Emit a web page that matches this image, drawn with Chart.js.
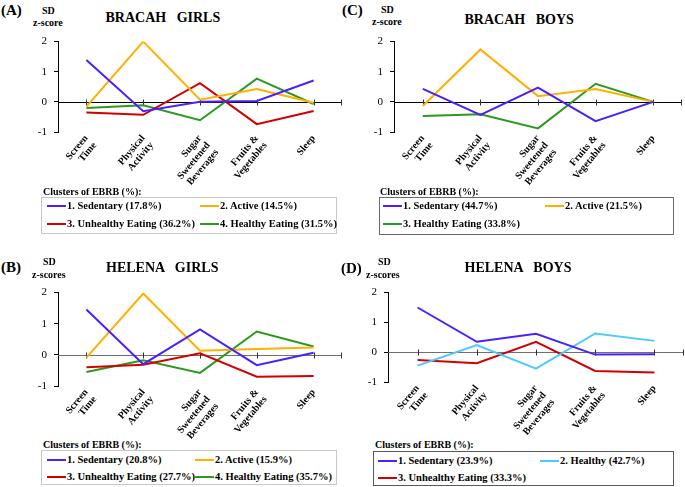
<!DOCTYPE html>
<html><head><meta charset="utf-8">
<script src="https://cdn.jsdelivr.net/npm/chart.js@4"></script>
<style>
body{margin:0;background:#fff;}
#wrap{position:relative;width:685px;height:487px;overflow:hidden;font-family:"Liberation Serif","Times New Roman",serif;color:#000;background:#fff;}
.t{position:absolute;white-space:pre;font-weight:bold;line-height:1;}
canvas{position:absolute;}
.hd{position:absolute;white-space:pre;font-weight:bold;font-size:10px;line-height:1;}
.bx{position:absolute;box-sizing:border-box;border:1px solid #999;}
.it{position:absolute;white-space:pre;font-weight:bold;font-size:10.5px;line-height:1;display:flex;align-items:center;}
.it i{display:inline-block;width:19px;height:2px;margin-right:1px;}
</style></head><body><div id="wrap"></div>
<script>
// ---- data ----
const categories = [['Screen','Time'],['Physical','Activity'],['Sugar','Sweetened','Beverages'],['Fruits &','Vegetables'],['Sleep']];
const yTicks = [-1, 0, 1, 2];

const bracahGirlsNames = ['1. Sedentary (17.8%)','2. Active (14.5%)','3. Unhealthy Eating (36.2%)','4. Healthy Eating (31.5%)'];
const bracahGirlsSedentary = [1.39, -0.31, 0.00, 0.03, 0.71];
const bracahGirlsActive    = [-0.16, 2.00, 0.07, 0.43, -0.03];
const bracahGirlsUnhealthy = [-0.35, -0.43, 0.62, -0.74, -0.30];
const bracahGirlsHealthy   = [-0.20, -0.11, -0.61, 0.77, -0.07];

const bracahBoysNames = ['1. Sedentary (44.7%)','2. Active (21.5%)','3. Healthy Eating (33.8%)'];
const bracahBoysSedentary = [0.43, -0.43, 0.47, -0.64, 0.00];
const bracahBoysActive    = [-0.14, 1.74, 0.19, 0.43, 0.00];
const bracahBoysHealthy   = [-0.47, -0.41, -0.88, 0.60, 0.00];

const helenaGirlsNames = ['1. Sedentary (20.8%)','2. Active (15.9%)','3. Unhealthy Eating (27.7%)','4. Healthy Eating (35.7%)'];
const helenaGirlsSedentary = [1.46, -0.30, 0.82, -0.33, 0.07];
const helenaGirlsActive    = [-0.09, 1.97, 0.13, 0.19, 0.24];
const helenaGirlsUnhealthy = [-0.40, -0.32, 0.05, -0.70, -0.68];
const helenaGirlsHealthy   = [-0.55, -0.17, -0.58, 0.75, 0.27];

const helenaBoysNames = ['1. Sedentary (23.9%)','2. Healthy (42.7%)','3. Unhealthy Eating (33.3%)'];
const helenaBoysSedentary = [1.50, 0.35, 0.62, -0.08, -0.07];
const helenaBoysHealthy   = [-0.45, 0.24, -0.55, 0.63, 0.38];
const helenaBoysUnhealthy = [-0.26, -0.37, 0.35, -0.63, -0.68];

// ---- styles ----
const COL = {sed:'#4b1fff', act:'#ffb000', unh:'#d40000', hea:'#2a9a1e', hel:'#4cc9ff'};
const FONT = '"Liberation Serif","Times New Roman",serif';

const panels = [
  {tag:'(A)', title:'BRACAH   GIRLS', sd:'z-score', names:bracahGirlsNames,
   series:[bracahGirlsSedentary,bracahGirlsActive,bracahGirlsUnhealthy,bracahGirlsHealthy], cols:['sed','act','unh','hea'],
   zeroColor:'#000', boxColor:'#c8c8c8',
   L:{cx:0,cy:28,cw:345,ch:160, l:58,t:38,r:342,b:132, tagX:1,tagY:3, sdX:42,sdY:6, zX:33,zY:18, titleC:163,titleY:11,
      hdX:43,hdY:187, bx:[41,197,296,37], rows:[207,225], colsX:[47,200]}},
  {tag:'(C)', title:'BRACAH   BOYS', sd:'z-score', names:bracahBoysNames,
   series:[bracahBoysSedentary,bracahBoysActive,bracahBoysHealthy], cols:['sed','act','hea'],
   zeroColor:'#000', boxColor:'#6a6a6a',
   L:{cx:345,cy:28,cw:340,ch:160, l:394,t:38,r:682,b:132, tagX:342,tagY:3, sdX:381,sdY:5, zX:372,zY:17, titleC:519,titleY:13,
      hdX:380,hdY:187, bx:[379,197,295,38], rows:[207,225], colsX:[383,545]}},
  {tag:'(B)', title:'HELENA   GIRLS', sd:'z-scores', names:helenaGirlsNames,
   series:[helenaGirlsSedentary,helenaGirlsActive,helenaGirlsUnhealthy,helenaGirlsHealthy], cols:['sed','act','unh','hea'],
   zeroColor:'#707070', boxColor:'#c8c8c8',
   L:{cx:0,cy:279,cw:345,ch:160, l:58,t:289,r:342,b:386, tagX:1,tagY:260, sdX:43,sdY:257, zX:32,zY:270, titleC:162,titleY:261,
      hdX:43,hdY:440, bx:[41,450,296,35], rows:[461,478], colsX:[47,195]}},
  {tag:'(D)', title:'HELENA   BOYS', sd:'z-scores', names:helenaBoysNames,
   series:[helenaBoysSedentary,helenaBoysHealthy,helenaBoysUnhealthy], cols:['sed','hel','unh'],
   zeroColor:'#707070', boxColor:'#5a5a5a',
   L:{cx:345,cy:279,cw:340,ch:160, l:388,t:289,r:684,b:382, tagX:341,tagY:261, sdX:378,sdY:257, zX:366,zY:270, titleC:518,titleY:261,
      hdX:375,hdY:440, bx:[373,451,301,35], rows:[462,479], colsX:[378,540]}}
];

const zeroAxis = {
  id:'zeroAxis',
  beforeDatasetsDraw(chart, args, opts){
    const {ctx, chartArea:a, scales:{x,y}} = chart;
    const y0 = Math.round(y.getPixelForValue(0)) + 0.5;
    ctx.save();
    ctx.strokeStyle = opts.color; ctx.lineWidth = 1;
    ctx.beginPath(); ctx.moveTo(a.left, y0); ctx.lineTo(a.right, y0); ctx.stroke();
    ctx.strokeStyle = '#333';
    ctx.beginPath();
    for (let i = 0; i < chart.data.labels.length; i++) {
      const px = Math.round(x.getPixelForValue(i)) + 0.5;
      ctx.moveTo(px, y0 - 3); ctx.lineTo(px, y0 + 3);
    }
    ctx.moveTo(Math.round(a.right) - 0.5, y0 - 3); ctx.lineTo(Math.round(a.right) - 0.5, y0 + 3);
    ctx.stroke();
    ctx.restore();
  }
};

const wrap = document.getElementById('wrap');
function addText(txt, x, y, size, extra){
  const d = document.createElement('div'); d.className='t'; d.textContent = txt;
  d.style.left = x+'px'; d.style.top = y+'px'; d.style.fontSize = size+'px';
  if (extra) Object.assign(d.style, extra);
  wrap.appendChild(d); return d;
}

panels.forEach(p => {
  const L = p.L;
  const cv = document.createElement('canvas');
  cv.width = L.cw; cv.height = L.ch;
  cv.style.left = L.cx+'px'; cv.style.top = L.cy+'px';
  cv.style.width = L.cw+'px'; cv.style.height = L.ch+'px';
  wrap.appendChild(cv);
  const yW = L.l - L.cx, xH = (L.cy + L.ch) - L.b;
  new Chart(cv.getContext('2d'), {
    type:'line',
    data:{
      labels: categories,
      datasets: p.series.map((s,i) => ({
        label: p.names[i], data: s, borderColor: COL[p.cols[i]], backgroundColor: COL[p.cols[i]],
        borderWidth: 2, pointRadius: 0, tension: 0, fill: false, borderJoinStyle:'miter'
      }))
    },
    options:{
      responsive:false, animation:false, devicePixelRatio:1,
      layout:{padding:{top: L.t - L.cy, right: (L.cx + L.cw) - L.r, left:0, bottom:0}},
      plugins:{legend:{display:false}, title:{display:false}, tooltip:{enabled:false}, zeroAxis:{color:p.zeroColor}},
      scales:{
        x:{offset:true, afterFit:s=>{s.height = xH;},
           grid:{display:false, drawTicks:false}, border:{display:false},
           ticks:{autoSkip:false, maxRotation:50, minRotation:50, color:'#000', padding:1,
                  font:{family:FONT, size:10, weight:'bold', lineHeight:1.1}}},
        y:{min:-1, max:2, afterFit:s=>{s.width = yW;},
           afterBuildTicks:s=>{s.ticks = yTicks.map(v=>({value:v}));},
           ticks:{color:'#000', padding:7, font:{family:FONT, size:11}},
           grid:{drawOnChartArea:false, drawTicks:true, tickLength:4, color:'#000'},
           border:{display:true, color:'#000', width:1}}
      }
    },
    plugins:[zeroAxis]
  });

  addText(p.tag, L.tagX, L.tagY, 15);
  addText('SD', L.sdX, L.sdY, 10);
  addText(p.sd, L.zX, L.zY, 10);
  const tt = addText(p.title, 0, L.titleY, 14);
  tt.style.left = (L.titleC - tt.offsetWidth/2) + 'px';

  const hd = document.createElement('div'); hd.className='hd'; hd.textContent='Clusters of EBRB (%):';
  hd.style.left = L.hdX+'px'; hd.style.top = L.hdY+'px'; wrap.appendChild(hd);
  const bx = document.createElement('div'); bx.className='bx';
  bx.style.left=L.bx[0]+'px'; bx.style.top=L.bx[1]+'px'; bx.style.width=L.bx[2]+'px'; bx.style.height=L.bx[3]+'px';
  bx.style.borderColor = p.boxColor; wrap.appendChild(bx);
  p.names.forEach((n,i) => {
    const it = document.createElement('div'); it.className='it';
    const sw = document.createElement('i'); sw.style.background = COL[p.cols[i]];
    it.appendChild(sw); it.appendChild(document.createTextNode(n));
    it.style.left = L.colsX[i%2]+'px'; it.style.top = (L.rows[Math.floor(i/2)] - 6)+'px';
    wrap.appendChild(it);
  });
});
</script></body></html>
